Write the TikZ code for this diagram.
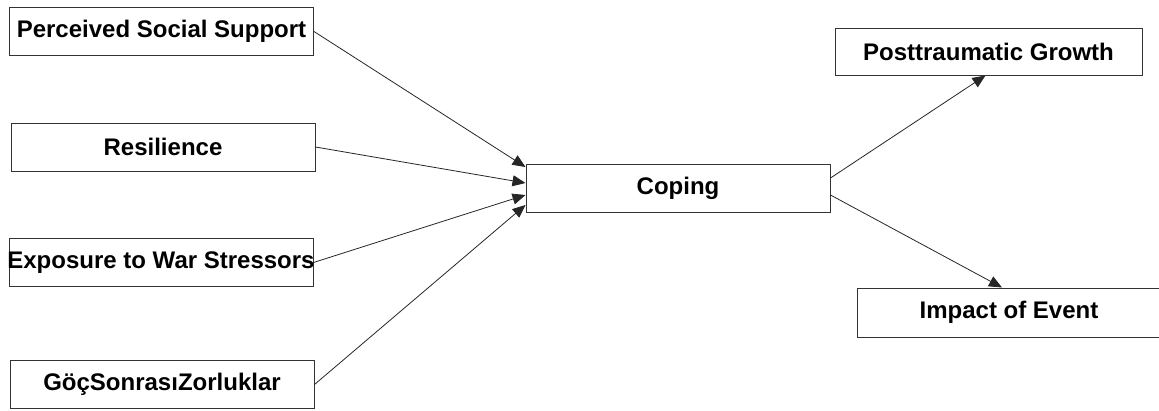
\documentclass[tikz,border=0pt]{standalone}
\usepackage{fontspec}
\setmainfont{Liberation Sans}
\usetikzlibrary{arrows.meta}

\tikzset{
	varbox/.style={draw=black!80, line width=1pt, fill=white, minimum width=304pt, minimum height=48pt, inner sep=0pt, font=\bfseries\fontsize{24}{29}\selectfont},
	link/.style={draw=black!85, line width=0.8pt, -{Triangle[length=13pt,width=11pt]}}
}

\begin{document}
\begin{tikzpicture}[x=1pt, y=-1pt]
			\useasboundingbox (0,0) rectangle (1159,410);

			% Predictors on the left
			\node[varbox] (pss) at (161.5, 31.5) {Perceived Social Support};
			\node[varbox] (res) at (163, 147) {Resilience};
			\node[varbox] (war) at (161, 262.5) {\makebox[300pt]{Exposure to War Stressors}}; % text runs onto the border
			\node[varbox] (goc) at (162, 384.5) {GöçSonrasıZorluklar};

			% Mediator
			\node[varbox] (cop) at (678, 188) {Coping};

			% Outcomes on the right
			\node[varbox, minimum width=307pt, minimum height=47pt] (ptg) at (988.5, 51.5) {Posttraumatic Growth};
			\node[varbox, minimum height=49pt] (ioe) at (1009, 312.5) {Impact of Event};

			% Paths into coping
			\draw[link] (pss.east) -- ([yshift=21pt]cop.west);
			\draw[link] (res.east) -- ([yshift=5pt]cop.west);
			\draw[link] (war.east) -- ([yshift=-7pt]cop.west);
			\draw[link] (goc.east) -- ([yshift=-17pt]cop.west);

			% Paths out of coping
			\draw[link] ([yshift=10pt]cop.east) -- ([xshift=-3pt]ptg.south);
			\draw[link] ([yshift=-7pt]cop.east) -- ([xshift=-7pt]ioe.north);

		\end{tikzpicture}
\end{document}
